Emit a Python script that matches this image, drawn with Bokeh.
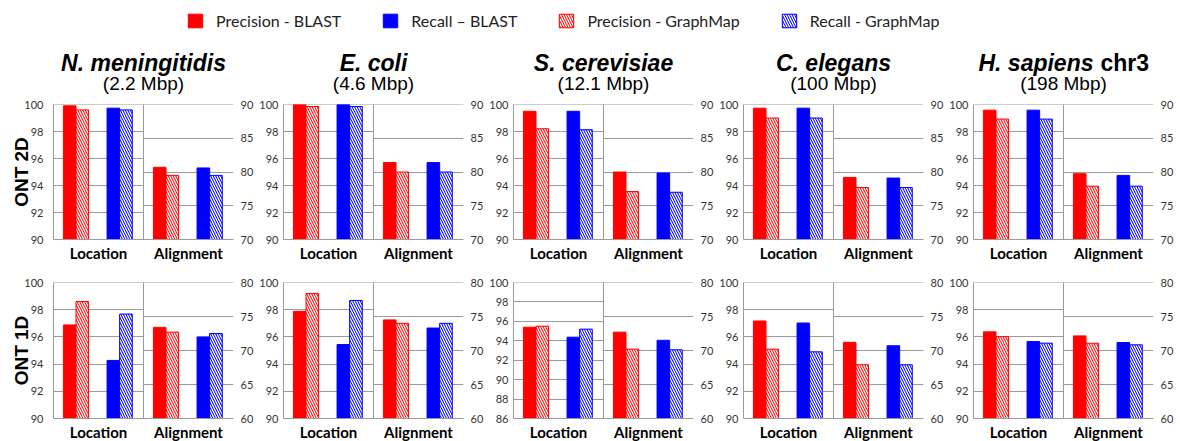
from bokeh.plotting import figure
from bokeh.models import (Range1d, FactorRange, LinearAxis, FixedTicker, Grid, Span,
                          ColumnDataSource, Legend, LegendItem)
from bokeh.layouts import row, column
from bokeh.transform import dodge
from bokeh.core.properties import value
from bokeh.embed import file_html
from bokeh.resources import INLINE

# ---------------- data ----------------
species = ["N. meningitidis", "E. coli", "S. cerevisiae", "C. elegans", "H. sapiens"]
species_suffix = ["", "", "", "", "chr3"]
genome_sizes = ["(2.2 Mbp)", "(4.6 Mbp)", "(12.1 Mbp)", "(100 Mbp)", "(198 Mbp)"]
row_labels = ["ONT 2D", "ONT 1D"]
groups = ["Location", "Alignment"]
series_labels = ["Precision - BLAST", "Recall \u2013 BLAST", "Precision - GraphMap", "Recall - GraphMap"]

# ONT 2D (Location on left scale, Alignment on right scale)
loc2d_prec_blast = [99.90, 100.0, 99.50, 99.73, 99.58]
loc2d_prec_graphmap = [99.60, 99.85, 98.20, 99.00, 98.92]
loc2d_rec_blast = [99.73, 100.0, 99.50, 99.73, 99.58]
loc2d_rec_graphmap = [99.60, 99.85, 98.13, 99.00, 98.92]
aln2d_prec_blast = [80.7, 81.4, 80.0, 79.2, 79.75]
aln2d_prec_graphmap = [79.5, 80.0, 77.1, 77.7, 77.9]
aln2d_rec_blast = [80.6, 81.4, 79.85, 79.1, 79.5]
aln2d_rec_graphmap = [79.5, 80.0, 77.0, 77.7, 77.9]

# ONT 1D
loc1d_prec_blast = [96.88, 97.88, 95.40, 97.17, 96.37]
loc1d_prec_graphmap = [98.60, 99.20, 95.50, 95.10, 96.02]
loc1d_rec_blast = [94.27, 95.44, 94.37, 97.02, 95.66]
loc1d_rec_graphmap = [97.68, 98.68, 95.20, 94.90, 95.54]
aln1d_prec_blast = [73.4, 74.5, 72.7, 71.2, 72.15]
aln1d_prec_graphmap = [72.7, 74.0, 70.2, 67.9, 71.07]
aln1d_rec_blast = [72.0, 73.3, 71.5, 70.7, 71.17]
aln1d_rec_graphmap = [72.5, 74.0, 70.1, 67.9, 70.83]

loc_ticks_2d = [[90, 92, 94, 96, 98, 100]] * 5
loc_ticks_1d = [[90, 92, 94, 96, 98, 100], [90, 92, 94, 96, 98, 100],
                [86, 88, 90, 92, 94, 96, 98, 100],
                [90, 92, 94, 96, 98, 100], [90, 92, 94, 96, 98, 100]]
aln_ticks_2d = [70, 75, 80, 85, 90]
aln_ticks_1d = [60, 65, 70, 75, 80]

# ---------------- style ----------------
RED = "#ff0000"
BLUE = "#0000ff"
GRID = "#9a9a9a"
TICK_FONT = "Lato"
TITLE_FONT = "Liberation Sans"
FRAME_W = 180
LEFT0 = 53
BL = 27
BR = 23
HEADER_H = 96
HAS_CB = "cross_bounds" in Grid.properties()

rows_data = [
    dict(loc=[loc2d_prec_blast, loc2d_prec_graphmap, loc2d_rec_blast, loc2d_rec_graphmap],
         aln=[aln2d_prec_blast, aln2d_prec_graphmap, aln2d_rec_blast, aln2d_rec_graphmap],
         loc_ticks=loc_ticks_2d, aln_ticks=aln_ticks_2d, fh=135, bt=8, bb=35),
    dict(loc=[loc1d_prec_blast, loc1d_prec_graphmap, loc1d_rec_blast, loc1d_rec_graphmap],
         aln=[aln1d_prec_blast, aln1d_prec_graphmap, aln1d_rec_blast, aln1d_rec_graphmap],
         loc_ticks=loc_ticks_1d, aln_ticks=aln_ticks_1d, fh=136, bt=8, bb=23),
]

series_keys = ["pb", "pg", "rb", "rg"]
series_style = {"pb": (RED, False, -0.32), "pg": (RED, True, -0.18),
                "rb": (BLUE, False, 0.165), "rg": (BLUE, True, 0.305)}


def bar_kwargs(color, hatched):
    kw = dict(fill_color=color, line_color=color, line_width=1)
    if hatched:
        kw.update(hatch_pattern="\\", hatch_color="white", hatch_scale=5, hatch_weight=1.3)
    return kw


def no_ticks(ax):
    ax.major_tick_line_color = None
    ax.minor_tick_line_color = None
    ax.major_tick_out = 0
    ax.major_tick_in = 0
    ax.minor_tick_out = 0
    ax.minor_tick_in = 0


def make_panel(i, r):
    rd = rows_data[r]
    loc_ticks = rd["loc_ticks"][i]
    aln_ticks = rd["aln_ticks"]
    p = figure(frame_width=FRAME_W, frame_height=rd["fh"],
               x_range=FactorRange(factors=groups, range_padding=0),
               y_range=Range1d(loc_ticks[0], loc_ticks[-1]),
               toolbar_location=None, output_backend="svg",
               min_border_left=LEFT0 if i == 0 else BL, min_border_right=BR,
               min_border_top=rd["bt"], min_border_bottom=rd["bb"])
    p.extra_y_ranges = {"aln": Range1d(aln_ticks[0], aln_ticks[-1])}
    p.outline_line_color = None
    p.xgrid.visible = False
    p.ygrid.visible = False

    yax = p.yaxis[0]
    yax.ticker = FixedTicker(ticks=loc_ticks)
    yax.axis_line_color = GRID
    no_ticks(yax)
    yax.major_label_text_font = TICK_FONT
    yax.major_label_text_font_size = "11px"
    yax.major_label_text_color = "#333333"
    yax.major_label_standoff = 10 if i == 0 else 5
    if i == 0:
        yax.axis_label = row_labels[r]
        yax.axis_label_text_font = TITLE_FONT
        yax.axis_label_text_font_style = "bold"
        yax.axis_label_text_font_size = "19px"
        yax.axis_label_text_color = "#000000"
        yax.axis_label_standoff = -11

    rax = LinearAxis(y_range_name="aln", ticker=FixedTicker(ticks=aln_ticks))
    rax.axis_line_color = None
    no_ticks(rax)
    rax.major_label_text_font = TICK_FONT
    rax.major_label_text_font_size = "11px"
    rax.major_label_text_color = "#333333"
    rax.major_label_standoff = 7
    p.add_layout(rax, "right")

    xax = p.xaxis[0]
    xax.axis_line_color = GRID
    no_ticks(xax)
    xax.major_label_text_font = TICK_FONT
    xax.major_label_text_font_style = "bold"
    xax.major_label_text_font_size = "15px"
    xax.major_label_text_color = "#000000"
    xax.major_label_standoff = 4

    if HAS_CB:
        p.add_layout(Grid(dimension=1, ticker=FixedTicker(ticks=loc_ticks),
                          cross_bounds=(0, 1), grid_line_color=GRID))
        p.add_layout(Grid(dimension=1, ticker=FixedTicker(ticks=aln_ticks), y_range_name="aln",
                          cross_bounds=(1, 2), grid_line_color=GRID))
    else:
        p.segment(x0=[0] * len(loc_ticks), x1=[1] * len(loc_ticks), y0=loc_ticks, y1=loc_ticks,
                  line_color=GRID, level="underlay")
        p.segment(x0=[1] * len(aln_ticks), x1=[2] * len(aln_ticks), y0=aln_ticks, y1=aln_ticks,
                  line_color=GRID, y_range_name="aln", level="underlay")
    # top line across both halves (top tick of both scales) and the middle separator
    p.add_layout(Span(location=loc_ticks[-1], dimension="width", line_color=GRID, line_width=1,
                      level="underlay"))
    p.add_layout(Span(location=1, dimension="height", line_color=GRID, line_width=1))

    src_loc = ColumnDataSource({"g": [groups[0]], **{k: [rd["loc"][j][i]] for j, k in enumerate(series_keys)}})
    src_aln = ColumnDataSource({"g": [groups[1]], **{k: [rd["aln"][j][i]] for j, k in enumerate(series_keys)}})
    for src, rng, base in [(src_loc, "default", loc_ticks[0]), (src_aln, "aln", aln_ticks[0])]:
        for k in series_keys:
            color, hatched, off = series_style[k]
            p.vbar(x=dodge("g", off, range=p.x_range), top=k, bottom=base, width=0.14,
                   source=src, y_range_name=rng, **bar_kwargs(color, hatched))
    return p


# ---------------- header (legend + titles) ----------------
total_w = 1180
header = figure(width=total_w, height=HEADER_H, x_range=Range1d(0, total_w), y_range=Range1d(HEADER_H, 0),
                toolbar_location=None, output_backend="svg", min_border=0,
                x_axis_location=None, y_axis_location=None)
header.xgrid.visible = False
header.ygrid.visible = False
header.outline_line_color = None

# legend swatches: hidden one-bar renderers that only supply the legend glyphs
leg_styles = [(RED, False), (BLUE, False), (RED, True), (BLUE, True)]
leg_src = ColumnDataSource(dict(x=[0], top=[0]))
items = []
for lab, (c, h) in zip(series_labels, leg_styles):
    rr = header.vbar(x="x", top="top", width=1, source=leg_src, **bar_kwargs(c, h))
    rr.visible = False
    items.append(LegendItem(label=lab, renderers=[rr]))
legend = Legend(items=items, orientation="horizontal", location=(186, 66),
                glyph_width=18, glyph_height=17, label_standoff=12, spacing=40,
                padding=0, margin=0, border_line_color=None, background_fill_alpha=0,
                label_text_font=TICK_FONT, label_text_font_size="16px", label_text_color="#222222")
header.add_layout(legend)

pitch = FRAME_W + BL + BR
centers = [LEFT0 + FRAME_W / 2 + k * pitch for k in range(len(species))]
plain_x = [c for c, s in zip(centers, species_suffix) if not s]
plain_t = [sp for sp, s in zip(species, species_suffix) if not s]
header.text(x=plain_x, y=[62] * len(plain_x), text=plain_t, text_font=value(TITLE_FONT),
            text_font_style="bold italic", text_font_size="23px", text_align="center",
            text_baseline="alphabetic", text_color="#000000")
suf_c = [c for c, s in zip(centers, species_suffix) if s]
suf_sp = [sp for sp, s in zip(species, species_suffix) if s]
suf_t = [s for s in species_suffix if s]
header.text(x=[c + 30 for c in suf_c], y=[62] * len(suf_c), text=suf_sp, text_font=value(TITLE_FONT),
            text_font_style="bold italic", text_font_size="23px", text_align="right",
            text_baseline="alphabetic", text_color="#000000")
header.text(x=[c + 37 for c in suf_c], y=[62] * len(suf_c), text=suf_t, text_font=value(TITLE_FONT),
            text_font_style="bold", text_font_size="23px", text_align="left",
            text_baseline="alphabetic", text_color="#000000")
header.text(x=centers, y=[83] * len(centers), text=genome_sizes, text_font=value(TITLE_FONT),
            text_font_style="normal", text_font_size="19px", text_align="center",
            text_baseline="alphabetic", text_color="#000000")

row1 = row(*[make_panel(i, 0) for i in range(5)], spacing=0)
row2 = row(*[make_panel(i, 1) for i in range(5)], spacing=0)
layout = column(header, row1, row2, spacing=0)

open("out.html", "w").write(file_html(layout, INLINE))
